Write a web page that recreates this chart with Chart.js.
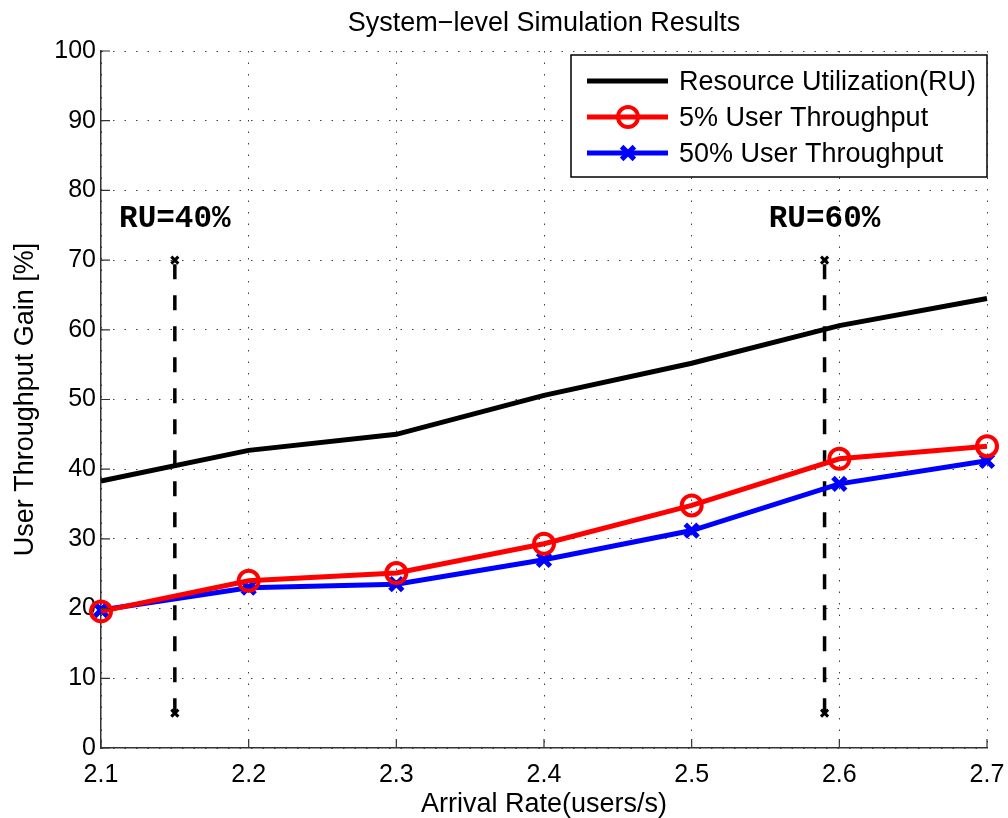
<!DOCTYPE html>
<html>
<head>
<meta charset="utf-8">
<script src="https://cdn.jsdelivr.net/npm/chart.js@4/dist/chart.umd.min.js"></script>
<style>
  html, body { margin: 0; padding: 0; background: #fff; }
  #wrap { width: 1008px; height: 818px; }
</style>
</head>
<body>
<div id="wrap"><canvas id="c"></canvas></div>
<script>
// data
const arrivalRate = [2.1, 2.2, 2.3, 2.4, 2.5, 2.6, 2.7];
const ruUtil = [38.3, 42.7, 45.0, 50.6, 55.2, 60.6, 64.5];
const tp5 = [19.6, 24.0, 25.1, 29.3, 34.8, 41.5, 43.3];
const tp50 = [19.8, 23.0, 23.5, 27.0, 31.2, 37.9, 41.2];

const seriesNames = ["Resource Utilization(RU)", "5% User Throughput", "50% User Throughput"];
const chartTitle = "System\u2212level Simulation Results";

// vertical RU markers
const ruMarkX = [2.15, 2.59];
const ruMarkText = ["RU=40%", "RU=60%"];
const ruMarkSpan = [5, 70];
const ruMarkTextY = 75.8;

const SANS = "'Liberation Sans', Arial, Helvetica, sans-serif";

const toPts = (xs, ys) => xs.map((x, i) => ({ x: x, y: ys[i] }));

const markerSets = ruMarkX.map(x => ({
  label: "_mark",
  data: ruMarkSpan.map(y => ({ x: x, y: y })),
  borderColor: "#000",
  borderWidth: 3.5,
  borderDash: [15, 16],
  pointStyle: "crossRot",
  pointRadius: 5,
  pointBorderWidth: 3,
  pointBorderColor: "#000",
  clip: false
}));

// title centred over the plot area (matlab does it that way)
const plotTitle = {
  id: "plotTitle",
  afterDraw(chart) {
    const { ctx, chartArea } = chart;
    ctx.save();
    ctx.fillStyle = "#000";
    ctx.font = "27px " + SANS;
    ctx.textAlign = "center";
    ctx.textBaseline = "middle";
    ctx.fillText(chartTitle, (chartArea.left + chartArea.right) / 2, 24);
    ctx.restore();
  }
};

// legend box inside the plot, top-right
const boxLegend = {
  id: "boxLegend",
  afterDatasetsDraw(chart) {
    const { ctx, chartArea } = chart;
    const w = 416, h = 122;
    const x0 = chartArea.right - w, y0 = chartArea.top + 4;
    ctx.save();
    ctx.fillStyle = "#fff";
    ctx.fillRect(x0, y0, w, h);
    ctx.strokeStyle = "#000";
    ctx.lineWidth = 1.5;
    ctx.strokeRect(x0, y0, w, h);
    const rows = [26, 62, 98];
    chart.data.datasets.slice(0, 3).forEach((ds, i) => {
      const y = y0 + rows[i];
      ctx.strokeStyle = ds.borderColor;
      ctx.lineWidth = ds.borderWidth;
      ctx.beginPath();
      ctx.moveTo(x0 + 16, y);
      ctx.lineTo(x0 + 97, y);
      ctx.stroke();
      if (ds.pointRadius > 0) {
        ctx.fillStyle = "rgba(0,0,0,0)";
        ctx.strokeStyle = ds.pointBorderColor;
        ctx.lineWidth = ds.pointBorderWidth;
        Chart.helpers.drawPoint(ctx, {
          pointStyle: ds.pointStyle,
          radius: ds.pointRadius,
          borderWidth: ds.pointBorderWidth,
          rotation: 0
        }, x0 + 57, y);
      }
      ctx.fillStyle = "#000";
      ctx.font = "27px " + SANS;
      ctx.textBaseline = "middle";
      ctx.textAlign = "left";
      ctx.fillText(ds.label, x0 + 108, y + 2);
    });
    ctx.restore();
  }
};

// RU=xx% captions + inward tick marks
const extras = {
  id: "extras",
  afterDraw(chart) {
    const { ctx, scales: { x, y }, chartArea } = chart;
    ctx.save();
    ctx.fillStyle = "#000";
    ctx.font = "bold 31px 'Liberation Mono', 'Courier New', monospace";
    ctx.textAlign = "center";
    ctx.textBaseline = "middle";
    ruMarkX.forEach((v, i) => {
      ctx.fillText(ruMarkText[i], x.getPixelForValue(v), y.getPixelForValue(ruMarkTextY));
    });
    ctx.strokeStyle = "#333";
    ctx.lineWidth = 1.2;
    ctx.beginPath();
    x.ticks.forEach(t => {
      const px = x.getPixelForValue(t.value);
      ctx.moveTo(px, chartArea.bottom);
      ctx.lineTo(px, chartArea.bottom - 9);
    });
    y.ticks.forEach(t => {
      const py = y.getPixelForValue(t.value);
      ctx.moveTo(chartArea.left, py);
      ctx.lineTo(chartArea.left + 9, py);
    });
    ctx.stroke();
    ctx.restore();
  }
};

new Chart(document.getElementById("c"), {
  type: "line",
  data: {
    datasets: [
      {
        label: seriesNames[0],
        data: toPts(arrivalRate, ruUtil),
        borderColor: "#000",
        borderWidth: 5,
        pointRadius: 0,
        clip: false
      },
      {
        label: seriesNames[1],
        data: toPts(arrivalRate, tp5),
        borderColor: "#ff0000",
        borderWidth: 5,
        pointStyle: "circle",
        pointRadius: 10,
        pointBorderWidth: 4,
        pointBorderColor: "#ff0000",
        pointBackgroundColor: "rgba(0,0,0,0)",
        clip: false
      },
      {
        label: seriesNames[2],
        data: toPts(arrivalRate, tp50),
        borderColor: "#0000ff",
        borderWidth: 5,
        pointStyle: "crossRot",
        pointRadius: 9,
        pointBorderWidth: 5,
        pointBorderColor: "#0000ff",
        clip: false
      },
      ...markerSets
    ]
  },
  options: {
    responsive: true,
    maintainAspectRatio: false,
    animation: false,
    layout: { padding: { left: 0, right: 21, top: 51, bottom: 0 } },
    plugins: {
      legend: { display: false },
      tooltip: { enabled: false },
      title: { display: false }
    },
    scales: {
      x: {
        type: "linear",
        min: 2.1,
        max: 2.7,
        ticks: {
          stepSize: 0.1,
          color: "#000",
          padding: 12,
          font: { family: SANS, size: 25 },
          callback: v => v.toFixed(1)
        },
        grid: { color: "rgba(0,0,0,0.75)", lineWidth: 1, drawTicks: false },
        border: { display: true, color: "#333", width: 1.5, dash: [1.5, 10] },
        title: {
          display: true,
          text: "Arrival Rate(users/s)",
          color: "#000",
          font: { family: SANS, size: 27, lineHeight: 1 },
          padding: { top: 0, bottom: 0 }
        },
        afterFit: s => { s.height = 70; s.paddingLeft = 0; s.paddingRight = 0; }
      },
      y: {
        min: 0,
        max: 100,
        ticks: {
          stepSize: 10,
          color: "#000",
          padding: 5,
          font: { family: SANS, size: 25 }
        },
        grid: { color: "rgba(0,0,0,0.75)", lineWidth: 1, drawTicks: false },
        border: { display: true, color: "#333", width: 1.5, dash: [1.5, 10] },
        title: {
          display: true,
          text: "User Throughput Gain [%]",
          color: "#000",
          font: { family: SANS, size: 27, lineHeight: 1.2 },
          padding: { top: 9, bottom: 0 }
        },
        afterFit: s => { s.width = 101; }
      }
    }
  },
  plugins: [boxLegend, extras, plotTitle]
});
</script>
</body>
</html>
